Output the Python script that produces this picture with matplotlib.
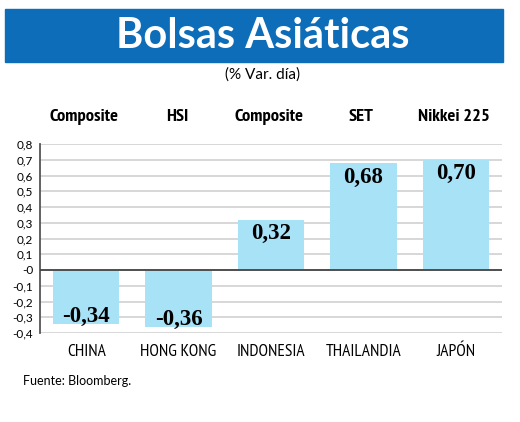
import numpy as np
import matplotlib.pyplot as plt
import matplotlib.transforms as mtransforms
from matplotlib.patches import Rectangle

# data
paises = ['CHINA', 'HONG KONG', 'INDONESIA', 'THAILANDIA', 'JAPÓN']
indices = ['Composite', 'HSI', 'Composite', 'SET', 'Nikkei 225']
variacion = [-0.34, -0.36, 0.32, 0.68, 0.70]
yticks = np.round(np.arange(-0.4, 0.81, 0.1), 1)

narrow = ['PT Sans Narrow', 'Open Sans Condensed', 'DejaVu Sans']
bar_color = '#a8e2f7'

fig = plt.figure(figsize=(5.2, 4.22), dpi=100)
fig.patch.set_facecolor('white')

# banner
fig.patches.append(Rectangle((5/520, 1 - 62/422), 498/520, 53/422,
                             transform=fig.transFigure, color='#0d6db8', zorder=0))
fig.text(263/520, 1 - 36/422, 'Bolsas Asiáticas', color='white', fontsize=30,
         fontweight='bold', family='Lato', ha='center', va='center')
fig.text(263/520, 1 - 75/422, '(% Var. día)', fontsize=11, family='Lato',
         ha='center', va='center')

ax = fig.add_axes([40/520, 89/422, 462/520, 189/422])
x = np.arange(len(paises))
ax.bar(x, variacion, width=0.72, color=bar_color, zorder=2)
ax.set_xlim(-0.5, 4.5)
ax.set_ylim(-0.4, 0.8)

ax.set_yticks(yticks)
ax.set_yticklabels([('%g' % t).replace('.', ',') for t in yticks],
                   fontsize=8.5, family='Lato')
ax.tick_params(axis='y', length=0, pad=5)
ax.set_xticks(x)
ax.set_xticklabels(paises, fontsize=12.5, family=narrow)
ax.tick_params(axis='x', length=0, pad=8)

ax.grid(axis='y', color='#d4d4d4', linewidth=1.3, zorder=0)
ax.axhline(0, color='#444444', linewidth=1.3, zorder=3)
for s in ['top', 'right', 'bottom']:
    ax.spines[s].set_visible(False)
ax.spines['left'].set_color('#555555')
ax.spines['left'].set_linewidth(1.3)

# value labels
for xi, v in zip(x, variacion):
    lab = ('%.2f' % v).replace('.', ',')
    if v > 0:
        y = v - 0.09
    else:
        y = v + 0.045
    ax.text(xi, y, lab, ha='center', va='center', fontsize=16.5,
            fontweight='heavy', family='Liberation Serif', zorder=4)

# index names above bars
trans = mtransforms.blended_transform_factory(ax.transData, fig.transFigure)
for xi, name in zip(x, indices):
    ax.text(xi - 0.02, 1 - 117/422, name, transform=trans, ha='center', va='center',
            fontsize=13.3, fontweight='bold', family=narrow)

fig.text(23/520, 1 - 381/422, 'Fuente: Bloomberg.', fontsize=9, family='Lato',
         ha='left', va='center')

fig.savefig('out.png', dpi=100)
